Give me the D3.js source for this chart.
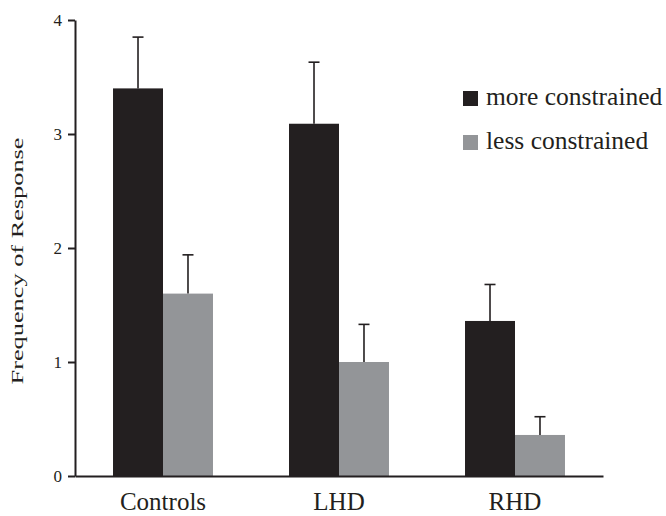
<!DOCTYPE html>
<html>
<head>
<meta charset="utf-8">
<script src="https://cdn.jsdelivr.net/npm/d3@7"></script>
<style>
  body { margin: 0; background: #fff; }
  text { font-family: "Liberation Serif", "Times New Roman", Times, serif; fill: #231f20; }
</style>
</head>
<body>
<script>
// data
const groups = ["Controls", "LHD", "RHD"];
const seriesNames = ["more constrained", "less constrained"];
const moreVals = [3.4, 3.09, 1.36];
const moreErr = [0.45, 0.54, 0.32];
const lessVals = [1.6, 1.0, 0.36];
const lessErr = [0.34, 0.33, 0.16];
const yTicks = [0, 1, 2, 3, 4];

const colors = ["#231f20", "#939598"];

let canvasW = 666;
let canvasH = 516;

const svg = d3.select("body").append("svg")
    .attr("width", canvasW)
    .attr("height", canvasH);

let x = d3.scaleBand()
    .domain(groups)
    .range([75, 603])
    .paddingInner(0.432)
    .paddingOuter(0.216);

let xs = d3.scaleBand()
    .domain(seriesNames)
    .range([0, x.bandwidth()]);

let y = d3.scaleLinear()
    .domain([0, 4])
    .range([476, 20]);

// build rows for bars
let rows = [];
groups.forEach((g, i) => {
    rows.push({ g: g, s: seriesNames[0], v: moreVals[i], e: moreErr[i], c: colors[0] });
    rows.push({ g: g, s: seriesNames[1], v: lessVals[i], e: lessErr[i], c: colors[1] });
});

svg.selectAll("rect.bar")
    .data(rows)
    .enter()
    .append("rect")
    .attr("class", "bar")
    .attr("x", d => x(d.g) + xs(d.s))
    .attr("y", d => y(d.v))
    .attr("width", xs.bandwidth())
    .attr("height", d => y(0) - y(d.v))
    .attr("fill", d => d.c);

// error bars (upper only)
let eb = svg.selectAll("g.err")
    .data(rows)
    .enter()
    .append("g")
    .attr("class", "err")
    .attr("stroke", "#231f20")
    .attr("stroke-width", 1.6);

eb.append("line")
    .attr("x1", d => x(d.g) + xs(d.s) + xs.bandwidth() / 2)
    .attr("x2", d => x(d.g) + xs(d.s) + xs.bandwidth() / 2)
    .attr("y1", d => y(d.v))
    .attr("y2", d => y(d.v + d.e));

eb.append("line")
    .attr("x1", d => x(d.g) + xs(d.s) + xs.bandwidth() / 2 - 5.5)
    .attr("x2", d => x(d.g) + xs(d.s) + xs.bandwidth() / 2 + 5.5)
    .attr("y1", d => y(d.v + d.e))
    .attr("y2", d => y(d.v + d.e));

// y axis
let yAxis = svg.append("g")
    .attr("transform", "translate(75,0)")
    .call(d3.axisLeft(y).tickValues(yTicks).tickFormat(d3.format("d")).tickSize(7).tickSizeOuter(0).tickPadding(6));

yAxis.attr("font-family", null);
yAxis.select(".domain").attr("stroke", "#231f20").attr("stroke-width", 2);
yAxis.selectAll(".tick line").attr("stroke", "#231f20").attr("stroke-width", 2);
yAxis.selectAll(".tick text")
    .attr("font-size", "17px")
    .attr("fill", "#231f20");

// x axis line
let xAxis = svg.append("g")
    .attr("transform", "translate(0,476)")
    .call(d3.axisBottom(x).tickSize(0).tickSizeOuter(0).tickPadding(16));

xAxis.attr("font-family", null);
xAxis.select(".domain").attr("stroke", "#231f20").attr("stroke-width", 2);
xAxis.selectAll(".tick text")
    .attr("font-size", "25px")
    .attr("fill", "#231f20");

// y title
svg.append("text")
    .attr("transform", "translate(23,261) rotate(-90)")
    .attr("text-anchor", "middle")
    .attr("font-size", "17px")
    .attr("textLength", 247)
    .attr("lengthAdjust", "spacingAndGlyphs")
    .text("Frequency of Response");

// legend
let leg = svg.selectAll("g.leg")
    .data(seriesNames)
    .enter()
    .append("g")
    .attr("class", "leg")
    .attr("transform", (d, i) => `translate(463,${91 + i * 44})`);

leg.append("rect")
    .attr("width", 15)
    .attr("height", 15)
    .attr("fill", (d, i) => colors[i]);

leg.append("text")
    .attr("x", 23)
    .attr("y", 14)
    .attr("font-size", "25.5px")
    .text(d => d);
</script>
</body>
</html>
